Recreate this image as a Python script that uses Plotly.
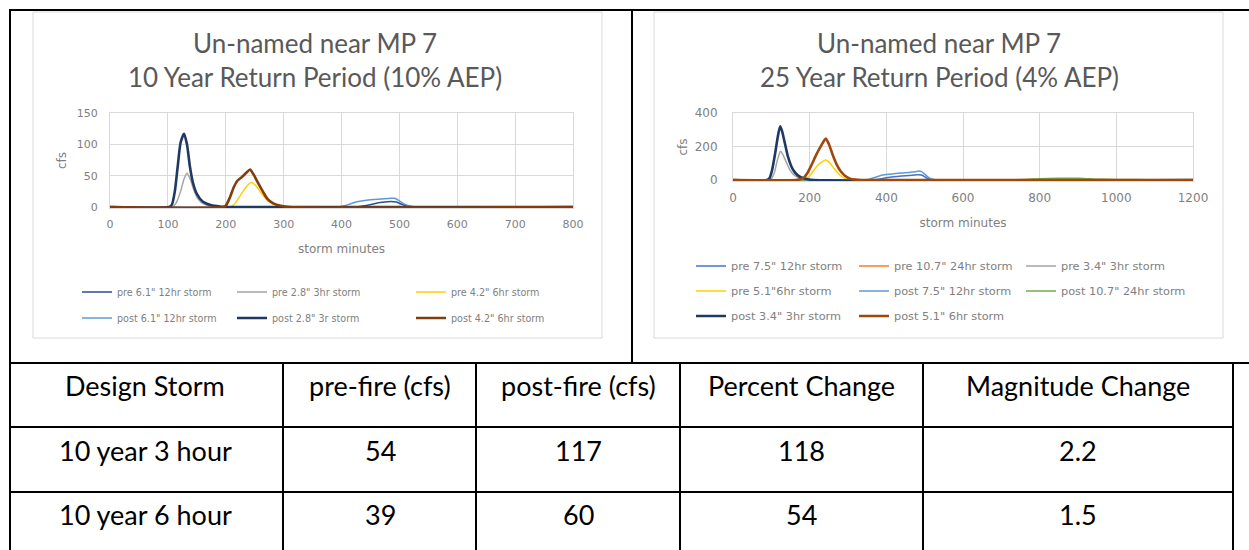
import plotly.graph_objects as go

W, H = 1249, 550

# ---------------- data: 10 year chart ----------------
left_title = ["Un-named near MP 7", "10 Year Return Period (10% AEP)"]
left_names = ['pre 6.1" 12hr storm', 'pre 2.8" 3hr storm', 'pre 4.2" 6hr storm',
              'post 6.1" 12hr storm', 'post 2.8" 3r storm', 'post 4.2" 6hr storm']
left_x = [
    [0, 425, 440, 455, 470, 485, 495, 505, 515, 530, 800],
    [0, 108, 115, 122, 128, 133, 138, 145, 152, 160, 175, 190, 800],
    [0, 208, 215, 222, 230, 238, 244, 250, 258, 266, 274, 284, 296, 310, 800],
    [0, 395, 405, 415, 425, 440, 455, 470, 485, 492, 500, 508, 516, 525, 540, 800],
    [0, 102, 107, 112, 117, 122, 128, 133, 138, 143, 150, 160, 175, 190, 205, 800],
    [0, 195, 200, 207, 214, 220, 228, 236, 242, 248, 256, 264, 272, 282, 295, 310, 800],
]
left_y = [
    [0, 0, 2, 5, 7.5, 9, 8, 4, 1.5, 0, 0],
    [0, 0, 8, 25, 45, 54, 46, 27, 13, 6, 1.5, 0, 0],
    [0, 0, 5, 14, 25, 35, 39, 36, 27, 17, 9, 4, 1, 0, 0],
    [0, 0, 2, 5, 8, 10.5, 12, 13, 14, 14, 10, 5, 2, 0.5, 0, 0],
    [0, 0, 4, 25, 65, 103, 117, 100, 65, 40, 21, 9, 3, 1, 0, 0],
    [0, 0, 2, 15, 32, 42, 48, 55, 60, 52, 38, 25, 13, 6, 2, 0, 0],
]

# ---------------- data: 25 year chart ----------------
right_title = ["Un-named near MP 7", "25 Year Return Period (4% AEP)"]
right_names = ['pre 7.5" 12hr storm', 'pre 10.7" 24hr storm', 'pre 3.4" 3hr storm',
               'pre 5.1"6hr storm', 'post 7.5" 12hr storm', 'post 10.7" 24hr storm',
               'post 3.4" 3hr storm', 'post 5.1" 6hr storm']
right_x = [
    [0, 360, 380, 400, 420, 440, 460, 475, 485, 495, 505, 515, 530, 1200],
    [0, 650, 750, 800, 850, 900, 940, 1000, 1200],
    [0, 93, 100, 108, 116, 124, 130, 138, 148, 158, 170, 185, 200, 1200],
    [0, 180, 190, 200, 210, 220, 232, 242, 250, 260, 270, 280, 292, 305, 320, 1200],
    [0, 340, 355, 370, 385, 400, 420, 440, 460, 475, 485, 492, 500, 510, 520, 535, 1200],
    [0, 600, 700, 760, 800, 850, 900, 930, 960, 1000, 1100, 1200],
    [0, 88, 95, 102, 110, 117, 123, 128, 135, 143, 152, 160, 170, 183, 195, 210, 1200],
    [0, 165, 175, 185, 195, 205, 217, 230, 242, 250, 261, 270, 280, 292, 305, 320, 335, 1200],
]
right_y = [
    [0, 0, 5, 14, 20, 24, 27, 30, 32, 27, 12, 4, 0, 0],
    [0, 0, 2, 4, 5, 5, 3, 2, 1],
    [0, 0, 8, 45, 120, 172, 152, 112, 62, 32, 15, 5, 0, 0],
    [0, 0, 8, 25, 55, 85, 108, 120, 108, 80, 50, 27, 10, 3, 0, 0],
    [0, 0, 5, 15, 27, 33, 38, 42, 45, 49, 53, 50, 35, 15, 5, 0, 0],
    [0, 0, 1, 3, 8, 10, 10, 7, 4, 3, 2, 2],
    [0, 0, 10, 60, 160, 260, 320, 292, 222, 142, 82, 50, 26, 11, 4, 0, 0],
    [0, 0, 4, 15, 45, 90, 150, 205, 248, 215, 145, 95, 55, 25, 8, 2, 0, 0],
]

# ---------------- data: table ----------------
table_header = ["Design Storm", "pre-fire (cfs)", "post-fire (cfs)", "Percent Change", "Magnitude Change"]
design_storm = ["10 year 3 hour", "10 year 6 hour"]
pre_fire = [54, 39]
post_fire = [117, 60]
percent_change = [118, 54]
magnitude_change = [2.2, 1.5]

# ---------------- styles ----------------
left_colors = ['#2F4E8C', '#A5A5A5', '#FFD000', '#5B9BD5', '#1F3864', '#843C0C']
left_widths = [1.5, 1.5, 1.5, 1.5, 2.6, 2.6]
left_legend = ['legend', 'legend', 'legend', 'legend2', 'legend2', 'legend2']
left_lw = [110, 134, 120, 110, 134, 120]
right_colors = ['#4472C4', '#ED7D31', '#A5A5A5', '#FFD000', '#5B9BD5', '#70AD47', '#203864', '#9E480E']
right_widths = [1.5, 1.5, 1.5, 1.5, 1.5, 1.5, 2.6, 2.6]
right_legend = ['legend3', 'legend3', 'legend3', 'legend4', 'legend4', 'legend4', 'legend5', 'legend5']
right_lw = [118, 122, 120, 118, 122, 120, 118, 122]

FONT = "Lato"
SMALL = "DejaVu Sans"
TICK = "#808080"
TITLE = "#595959"
GRID = "#D9D9D9"

fig = go.Figure()
for i, n in enumerate(left_names):
    fig.add_trace(go.Scatter(x=left_x[i], y=left_y[i], name=n, mode="lines",
                             line=dict(color=left_colors[i], width=left_widths[i], shape="spline", smoothing=0.6),
                             xaxis="x", yaxis="y", legend=left_legend[i], legendwidth=left_lw[i]))
for i, n in enumerate(right_names):
    fig.add_trace(go.Scatter(x=right_x[i], y=right_y[i], name=n, mode="lines",
                             line=dict(color=right_colors[i], width=right_widths[i], shape="spline", smoothing=0.6),
                             xaxis="x2", yaxis="y2", legend=right_legend[i], legendwidth=right_lw[i]))


def px_x(p):
    return p / W


def px_y(p):
    return 1 - p / H


def axis_common(size):
    return dict(showgrid=True, gridcolor=GRID, gridwidth=1, zeroline=False, showline=True,
                linecolor=GRID, linewidth=1, mirror=True, ticks="", automargin=False,
                tickfont=dict(family=SMALL, size=size, color=TICK))


fig.update_layout(
    width=W, height=H, margin=dict(l=0, r=0, t=0, b=0, pad=0, autoexpand=False),
    paper_bgcolor="white", plot_bgcolor="white",
    font=dict(family=SMALL, color=TICK),
    xaxis=dict(domain=[px_x(110), px_x(573)], range=[0, 800], dtick=100, anchor="y",
               ticklabelstandoff=6,
               title=dict(text="storm minutes", font=dict(family=SMALL, size=12, color=TICK), standoff=14),
               **axis_common(11)),
    yaxis=dict(domain=[px_y(208), px_y(113)], range=[-1.5, 150], dtick=50, anchor="x",
               ticklabelstandoff=9,
               title=dict(text="cfs", font=dict(family=SMALL, size=12, color=TICK), standoff=7),
               **axis_common(11)),
    xaxis2=dict(domain=[px_x(733), px_x(1193)], range=[0, 1200], dtick=200, anchor="y2",
                ticklabelstandoff=6,
                title=dict(text="storm minutes", font=dict(family=SMALL, size=12, color=TICK), standoff=14),
                **axis_common(12)),
    yaxis2=dict(domain=[px_y(181), px_y(113)], range=[-6, 400], dtick=200, anchor="x2",
                ticklabelstandoff=12,
                title=dict(text="cfs", font=dict(family=SMALL, size=12, color=TICK), standoff=4),
                **axis_common(12)),
)

leg_common = dict(orientation="h", xanchor="left", yanchor="middle", bgcolor="rgba(0,0,0,0)",
                  borderwidth=0, itemwidth=30, tracegroupgap=0, itemclick=False)
fig.update_layout(
    legend=dict(x=px_x(77), y=px_y(292), font=dict(family=SMALL, size=9.6, color=TICK), **leg_common),
    legend2=dict(x=px_x(77), y=px_y(318), font=dict(family=SMALL, size=9.6, color=TICK), **leg_common),
    legend3=dict(x=px_x(691), y=px_y(266), font=dict(family=SMALL, size=11.3, color=TICK), **leg_common),
    legend4=dict(x=px_x(691), y=px_y(291), font=dict(family=SMALL, size=11.3, color=TICK), **leg_common),
    legend5=dict(x=px_x(691), y=px_y(316), font=dict(family=SMALL, size=11.3, color=TICK), **leg_common),
)

annotations = []
# chart titles
for cx, lines in ((315, left_title), (939, right_title)):
    for j, t in enumerate(lines):
        annotations.append(dict(text=t, x=px_x(cx), y=px_y(43 + 34 * j), xref="paper", yref="paper",
                                xanchor="center", yanchor="middle", showarrow=False,
                                font=dict(family=FONT, size=26, color=TITLE)))

# table text
col_centers = [145, 380, 578, 801, 1078]
row_centers = [385, 450, 514]
for c, t in enumerate(table_header):
    annotations.append(dict(text=t, x=px_x(col_centers[c]), y=px_y(row_centers[0]), xref="paper", yref="paper",
                            xanchor="center", yanchor="middle", showarrow=False,
                            font=dict(family=FONT, size=27, color="black")))
for r in range(len(design_storm)):
    vals = [design_storm[r], str(pre_fire[r]), str(post_fire[r]), str(percent_change[r]), str(magnitude_change[r])]
    for c, t in enumerate(vals):
        annotations.append(dict(text=t, x=px_x(col_centers[c]), y=px_y(row_centers[r + 1]), xref="paper",
                                yref="paper", xanchor="center", yanchor="middle", showarrow=False,
                                font=dict(family=FONT, size=27, color="black")))

shapes = []


def line(x0, y0, x1, y1, color="black", width=2):
    shapes.append(dict(type="line", xref="paper", yref="paper", x0=px_x(x0), y0=px_y(y0),
                       x1=px_x(x1), y1=px_y(y1), line=dict(color=color, width=width)))


# chart image frames
for x0, x1 in ((33, 602), (654, 1223)):
    shapes.append(dict(type="rect", xref="paper", yref="paper", x0=px_x(x0), y0=px_y(338), x1=px_x(x1),
                       y1=px_y(12), line=dict(color=GRID, width=1), layer="below"))

# table grid
line(9, 10, W, 10)
line(10, 10, 10, H)
line(632, 10, 632, 363)
line(9, 363, W, 363)
line(9, 427, 1234, 427)
line(9, 492, 1234, 492)
for vx in (283, 476, 680, 923, 1233):
    line(vx, 363, vx, H)

fig.update_layout(annotations=annotations, shapes=shapes)
fig.write_html("out.html", config={"displayModeBar": False},
               post_script="document.body.style.margin='0px';document.body.style.overflow='hidden';")
